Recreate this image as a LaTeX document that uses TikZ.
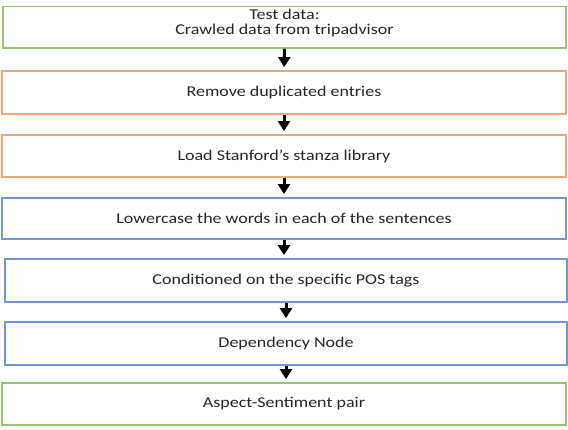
\documentclass[tikz,border=0pt]{standalone}
\usepackage{fontspec}
\setmainfont{Carlito}[FakeStretch=1.2]
\usetikzlibrary{arrows.meta}
\definecolor{stepgreen}{RGB}{150,198,118}
\definecolor{steporange}{RGB}{244,166,118}
\definecolor{stepblue}{RGB}{116,152,214}
\tikzset{
  stepbox/.style={draw=#1, line width=1.8pt, rectangle, inner sep=0pt,
    align=center, font=\fontsize{15pt}{15pt}\selectfont, text=black!85},
  flowarrow/.style={line width=3pt, draw=black,
    -{Triangle[length=10pt,width=12pt]}, shorten >=3pt}
}
\begin{document}
\begin{tikzpicture}[x=1pt,y=-1pt]
  \useasboundingbox (0,0) rectangle (568,429);
  % processing pipeline, top to bottom
  \node[stepbox=stepgreen, minimum width=563pt, minimum height=41.5pt,
    text depth=11pt]
    (data) at (284.5,27.25) {Test data:\\Crawled data from tripadvisor};
  \node[stepbox=steporange, minimum width=564pt, minimum height=43pt]
    (dedup) at (284,92.5) {Remove duplicated entries};
  \node[stepbox=steporange, minimum width=564pt, minimum height=42pt]
    (stanza) at (284,156) {Load Stanford’s stanza library};
  \node[stepbox=stepblue, minimum width=564pt, minimum height=41pt]
    (lower) at (284,218.5) {Lowercase the words in each of the sentences};
  \node[stepbox=stepblue, minimum width=562pt, minimum height=43pt]
    (pos) at (286,280.5) {Conditioned on the specific POS tags};
  \node[stepbox=stepblue, minimum width=562pt, minimum height=43pt]
    (dep) at (286,343.5) {Dependency Node};
  \node[stepbox=stepgreen, minimum width=564pt, minimum height=42pt]
    (pair) at (284,404) {Aspect-Sentiment pair};
  % connectors
  \draw[flowarrow] (data.south) -- (dedup.north);
  \draw[flowarrow] (dedup.south) -- (stanza.north);
  \draw[flowarrow] (stanza.south) -- (lower.north);
  \draw[flowarrow] (lower.south) -- (lower.south |- pos.north);
  \draw[flowarrow] (pos.south) -- (dep.north);
  \draw[flowarrow] (dep.south) -- (dep.south |- pair.north);
\end{tikzpicture}
\end{document}
